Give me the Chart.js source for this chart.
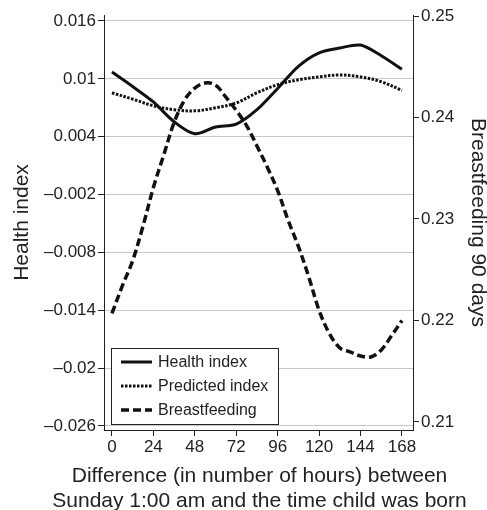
<!DOCTYPE html>
<html lang="en">
<head>
<meta charset="utf-8">
<script src="https://cdn.jsdelivr.net/npm/chart.js@4.4.1/dist/chart.umd.min.js"></script>
<style>
  html, body { margin: 0; padding: 0; background: #fff; }
  #container { width: 487px; height: 510px; }
</style>
</head>
<body>
<div id="container">
  <canvas id="chart" width="487" height="510"></canvas>
</div>
<script>
  // hours since Sunday 1:00 am
  var hours = [0, 12, 24, 36, 48, 60, 72, 84, 96, 108, 120, 132, 144, 156, 168];
  var healthIndex = [0.0107, 0.0092, 0.0076, 0.00555, 0.0043, 0.0050, 0.0053, 0.0068, 0.0090, 0.0113, 0.0127, 0.0132, 0.0135, 0.0124, 0.0110];
  var predictedIndex = [0.00855, 0.0079, 0.0072, 0.0068, 0.00668, 0.0070, 0.0075, 0.00855, 0.0094, 0.0099, 0.0102, 0.0104, 0.0102, 0.0097, 0.0088];

  var bfHours = [0, 6, 12, 18, 24, 30, 36, 42, 48, 54, 60, 66, 72, 78, 84, 90, 96, 102, 108, 114, 120, 126, 132, 138, 144, 150, 156, 162, 168];
  var breastfeeding = [0.2207, 0.2234, 0.2259, 0.2293, 0.2331, 0.2363, 0.2395, 0.2417, 0.2429, 0.2434, 0.2432, 0.2420, 0.2407, 0.2392, 0.2372, 0.2351, 0.2328, 0.2299, 0.2273, 0.2243, 0.2210, 0.2187, 0.2173, 0.2169, 0.2165, 0.2164, 0.2171, 0.2185, 0.2200];

  var xTicks = [0, 24, 48, 72, 96, 120, 144, 168];
  var leftTicks = [0.016, 0.01, 0.004, -0.002, -0.008, -0.014, -0.02, -0.026];
  var rightTicks = [0.25, 0.24, 0.23, 0.22, 0.21];
  var seriesNames = ['Health index', 'Predicted index', 'Breastfeeding'];
  var xTitle = ['Difference (in number of hours) between', 'Sunday 1:00 am and the time child was born'];

  var FONT = '"Liberation Sans", Arial, Helvetica, sans-serif';
  var INK = '#222';

  function pairs(xs, ys) {
    return xs.map(function (x, i) { return { x: x, y: ys[i] }; });
  }
  function fmt(v) {
    return v < 0 ? '\u2013' + String(-v) : String(v);
  }
  function fixed(list) {
    return function (scale) {
      scale.ticks = list.map(function (v) { return { value: v }; });
    };
  }

  // legend box inside the plot (bottom left) + the two-line x title,
  // which chart.js would squeeze to the axis width
  var extras = {
    id: 'extras',
    afterDraw: function (chart) {
      var ctx = chart.ctx;
      var a = chart.chartArea;
      var x0 = a.left + 7, w = 167, h = 76;
      var y0 = a.bottom - 6 - h;
      ctx.save();
      ctx.fillStyle = '#fff';
      ctx.fillRect(x0, y0, w, h);
      ctx.strokeStyle = INK;
      ctx.lineWidth = 1;
      ctx.strokeRect(x0 + 0.5, y0 + 0.5, w, h);
      chart.data.datasets.forEach(function (ds, i) {
        var y = y0 + 14 + i * 24;
        ctx.setLineDash(ds.borderDash || []);
        ctx.lineWidth = ds.borderWidth;
        ctx.strokeStyle = ds.borderColor;
        ctx.beginPath();
        ctx.moveTo(x0 + 10, y);
        ctx.lineTo(x0 + 41, y);
        ctx.stroke();
        ctx.setLineDash([]);
        ctx.fillStyle = INK;
        ctx.font = '16px ' + FONT;
        ctx.textBaseline = 'middle';
        ctx.textAlign = 'left';
        ctx.fillText(ds.label, x0 + 47, y + 1);
      });

      ctx.fillStyle = INK;
      ctx.font = '21px ' + FONT;
      ctx.textAlign = 'center';
      ctx.textBaseline = 'middle';
      var cx = (a.left + a.right) / 2 + 1;
      xTitle.forEach(function (line, i) {
        ctx.fillText(line, cx, a.bottom + 46 + i * 25);
      });
      ctx.restore();
    }
  };

  var context = document.getElementById('chart').getContext('2d');
  var chart = new Chart(context, {
    type: 'line',
    data: {
      datasets: [
        {
          label: seriesNames[0],
          data: pairs(hours, healthIndex),
          yAxisID: 'y',
          borderColor: '#111',
          borderWidth: 3,
          tension: 0.3,
          pointRadius: 0
        },
        {
          label: seriesNames[1],
          data: pairs(hours, predictedIndex),
          yAxisID: 'y',
          borderColor: '#111',
          borderWidth: 3,
          borderDash: [2.5, 1.5],
          tension: 0.35,
          pointRadius: 0
        },
        {
          label: seriesNames[2],
          data: pairs(bfHours, breastfeeding),
          yAxisID: 'y1',
          borderColor: '#111',
          borderWidth: 3.5,
          borderDash: [8, 4],
          tension: 0.35,
          pointRadius: 0
        }
      ]
    },
    options: {
      responsive: false,
      animation: false,
      devicePixelRatio: 1,
      layout: { padding: { top: 15, left: 0, right: 0, bottom: 0 } },
      plugins: {
        legend: { display: false },
        tooltip: { enabled: false }
      },
      scales: {
        x: {
          type: 'linear',
          min: -4.6,
          max: 174.4,
          afterBuildTicks: fixed(xTicks),
          afterFit: function (s) { s.height = 80; },
          grid: { drawOnChartArea: false, tickLength: 6, tickColor: INK },
          border: { color: INK, width: 1 },
          ticks: { color: INK, font: { family: FONT, size: 17 }, padding: 1, maxRotation: 0 },
          title: { display: false }
        },
        y: {
          position: 'left',
          min: -0.02642,
          max: 0.01662,
          afterBuildTicks: fixed(leftTicks),
          afterFit: function (s) { s.width = 104; },
          grid: { color: '#c8c8c8', lineWidth: 1, tickLength: 6, tickColor: INK },
          border: { color: INK, width: 1 },
          ticks: { color: INK, font: { family: FONT, size: 17 }, padding: 2, callback: fmt },
          title: {
            display: true,
            text: 'Health index',
            color: INK,
            font: { family: FONT, size: 21 },
            padding: { top: 10, bottom: 0 }
          }
        },
        y1: {
          position: 'right',
          min: 0.20921,
          max: 0.2501,
          afterBuildTicks: fixed(rightTicks),
          afterFit: function (s) { s.width = 74; },
          grid: { drawOnChartArea: false, tickLength: 6, tickColor: INK },
          border: { color: INK, width: 1 },
          ticks: { color: INK, font: { family: FONT, size: 17 }, padding: 2, callback: fmt },
          title: {
            display: true,
            text: 'Breastfeeding 90 days',
            color: INK,
            font: { family: FONT, size: 21 },
            padding: { top: -3, bottom: 0 }
          }
        }
      }
    },
    plugins: [extras]
  });
</script>
</body>
</html>
